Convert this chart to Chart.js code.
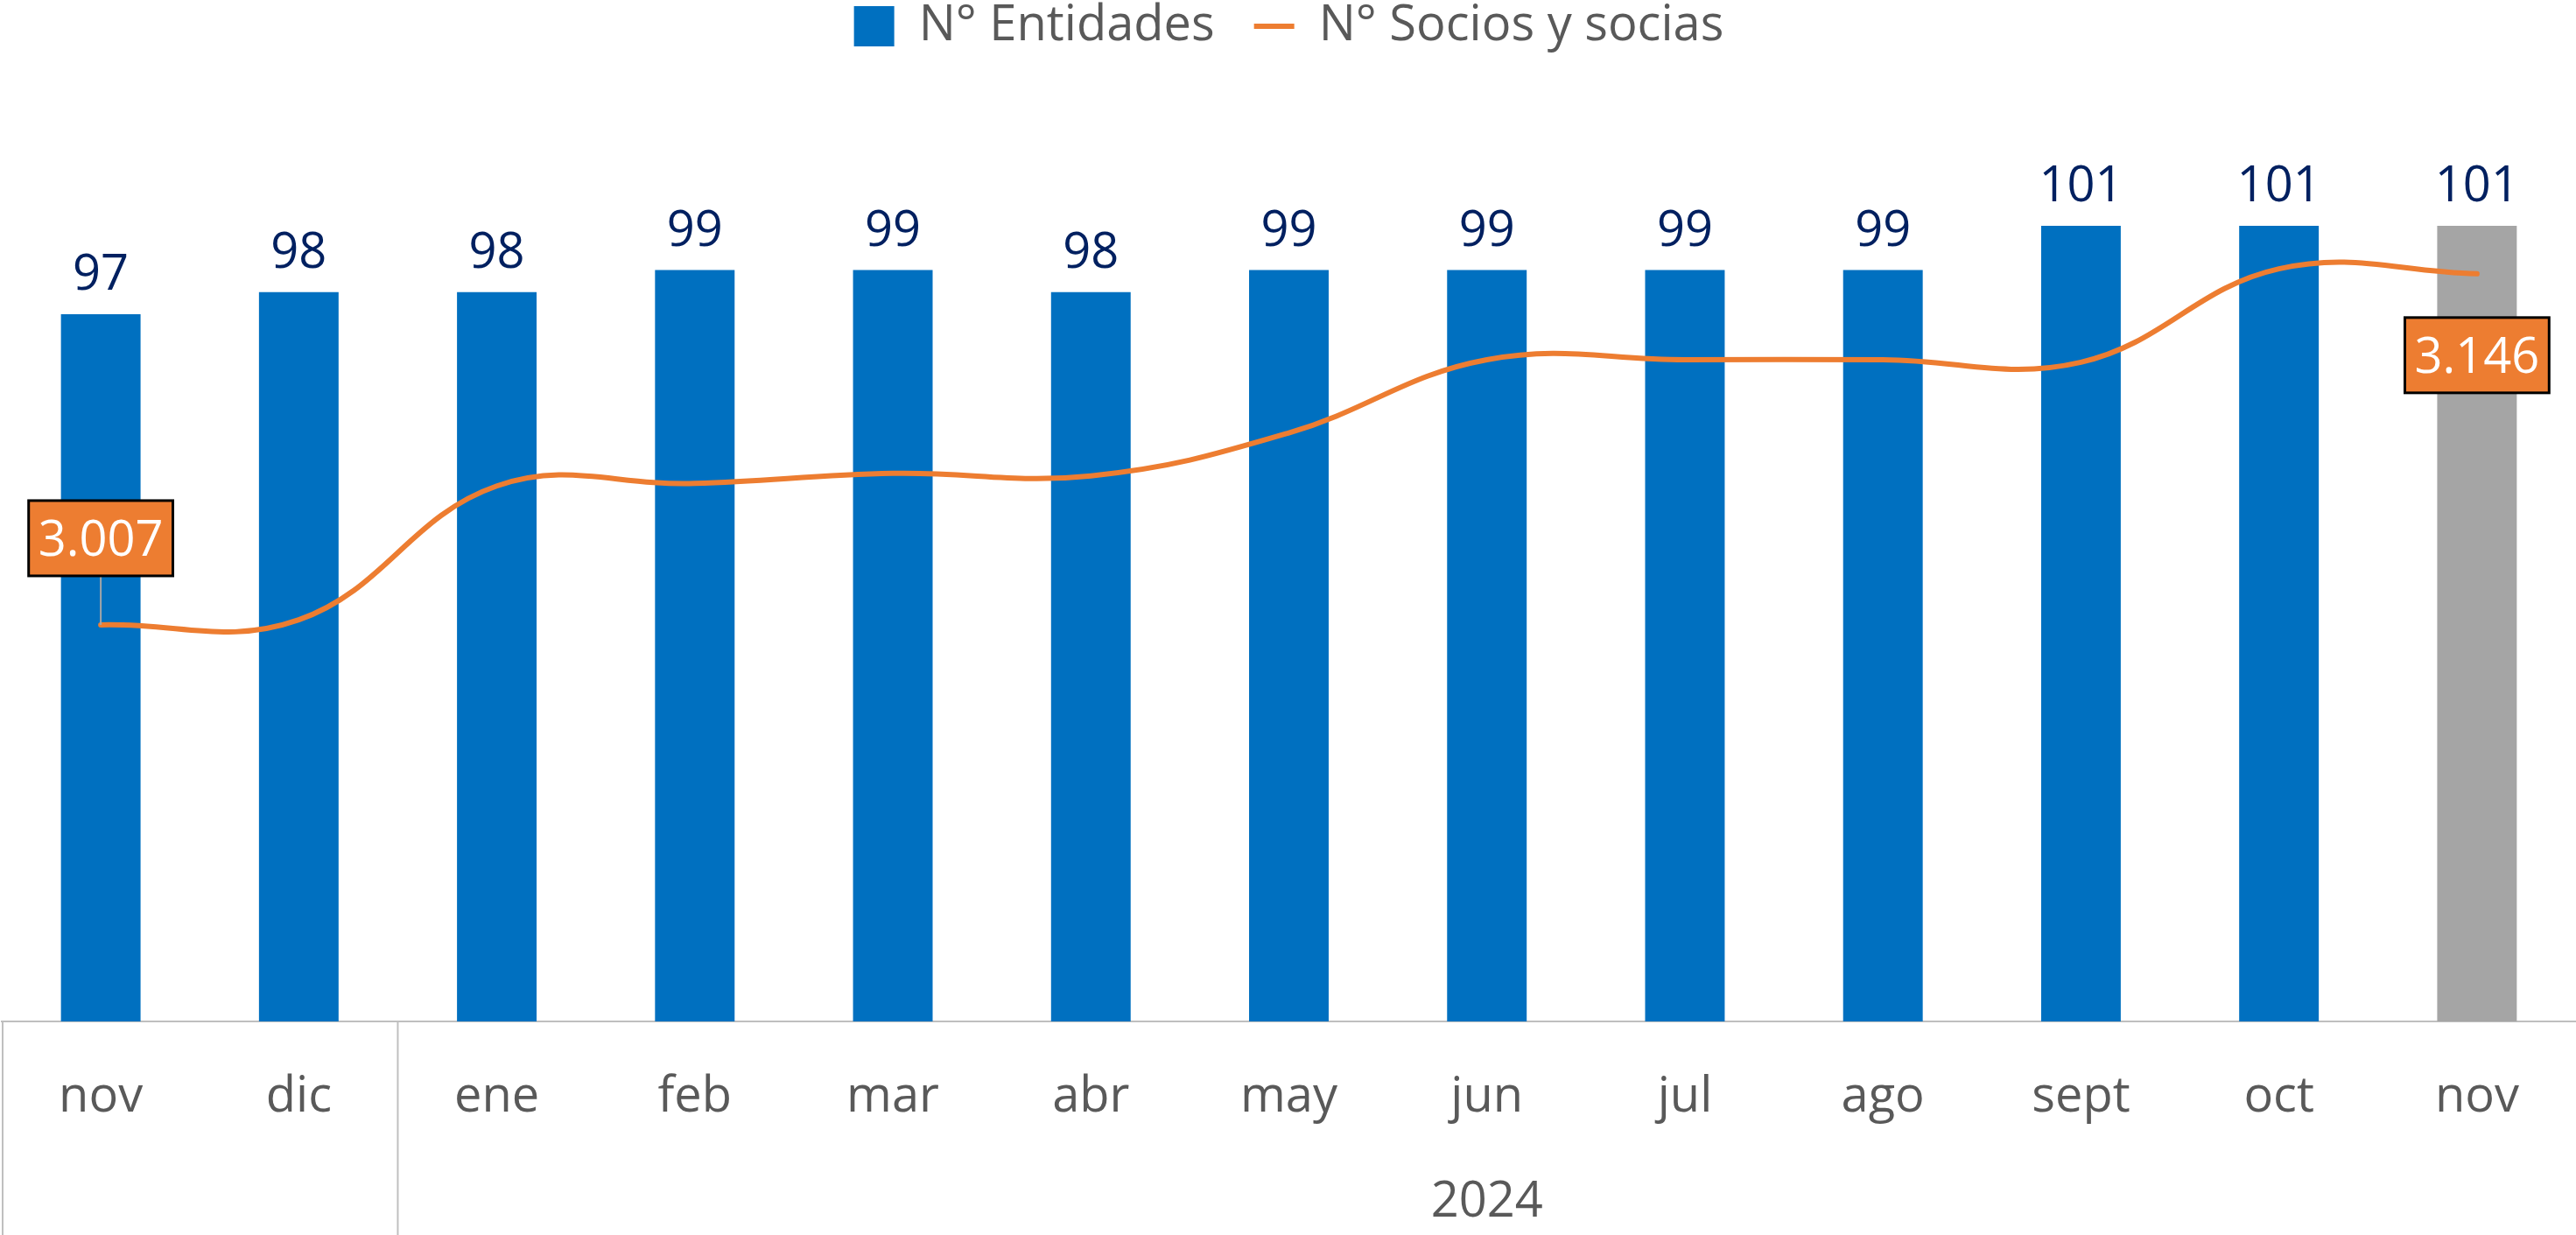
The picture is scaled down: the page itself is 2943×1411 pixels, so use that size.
<!DOCTYPE html>
<html>
<head>
<meta charset="utf-8">
<script src="https://cdn.jsdelivr.net/npm/chart.js@4.4.1/dist/chart.umd.min.js"></script>
<style>
html,body{margin:0;padding:0;background:#ffffff;}
canvas{display:block;}
</style>
</head>
<body>
<canvas id="c" width="2943" height="1411"></canvas>
<script>
// ---- data ----
const categories = ['nov','dic','ene','feb','mar','abr','may','jun','jul','ago','sept','oct','nov'];
const groupLabel = '2024';
const groupStartIndex = 2;
const groupEndIndex = 12;
const seriesNames = ['N° Entidades','N° Socios y socias'];
const entidades = [97,98,98,99,99,98,99,99,99,99,101,101,101];
const socios = [3007,3009,3062,3063,3067,3066,3083,3112,3112,3112,3111,3148,3146];
const labelledSociosIdx = [0, 12];

// ---- styles ----
const FONT = "'Open Sans', sans-serif";
const FS = 56;
const BLUE = '#0070C0';
const GREY_BAR = '#A5A5A5';
const ORANGE = '#ED7D31';
const NAVY = '#002060';
const TEXT_GREY = '#595959';
const AXIS_GREY = '#BFBFBF';

function fmtEs(v){ return String(v).replace(/\B(?=(\d{3})+(?!\d))/g, '.'); }

const legendFit = {
  id: 'legendFit',
  beforeInit(chart){
    const orig = chart.legend.fit;
    chart.legend.fit = function(){ orig.call(this); this.height = 200; };
  }
};

const annot = {
  id: 'annot',
  afterDatasetsDraw(chart){
    const ctx = chart.ctx;
    ctx.save();
    ctx.font = FS + 'px ' + FONT;
    ctx.textAlign = 'center';
    ctx.textBaseline = 'alphabetic';
    // bar value labels
    const bm = chart.getDatasetMeta(0);
    ctx.fillStyle = NAVY;
    bm.data.forEach((el, i) => {
      ctx.fillText(String(entidades[i]), el.x, el.y - 28);
    });
    // line value labels
    const lm = chart.getDatasetMeta(1);
    labelledSociosIdx.forEach((i, k) => {
      const el = lm.data[i];
      const txt = fmtEs(socios[i]);
      const w = ctx.measureText(txt).width + 22;
      const h = 86;
      const cy = k === 0 ? el.y - 99 : el.y + 93;
      if (k === 0) {
        ctx.strokeStyle = '#A6A6A6';
        ctx.lineWidth = 2;
        ctx.beginPath();
        ctx.moveTo(el.x, cy + h/2);
        ctx.lineTo(el.x, el.y);
        ctx.stroke();
      }
      ctx.fillStyle = ORANGE;
      ctx.fillRect(el.x - w/2, cy - h/2, w, h);
      ctx.strokeStyle = '#000000';
      ctx.lineWidth = 3;
      ctx.strokeRect(el.x - w/2, cy - h/2, w, h);
      ctx.fillStyle = '#FFFFFF';
      ctx.fillText(txt, el.x, cy + 20);
    });
    ctx.restore();
  },
  afterDraw(chart){
    const ctx = chart.ctx;
    const xs = chart.scales.x;
    const area = chart.chartArea;
    const bottom = chart.height;
    ctx.save();
    ctx.strokeStyle = AXIS_GREY;
    ctx.lineWidth = 2;
    const divX = (xs.getPixelForValue(groupStartIndex - 1) + xs.getPixelForValue(groupStartIndex)) / 2;
    [area.left + 1, divX].forEach(x => {
      ctx.beginPath();
      ctx.moveTo(x, area.bottom);
      ctx.lineTo(x, bottom);
      ctx.stroke();
    });
    ctx.fillStyle = TEXT_GREY;
    ctx.font = FS + 'px ' + FONT;
    ctx.textAlign = 'center';
    ctx.textBaseline = 'alphabetic';
    const gx = (xs.getPixelForValue(groupStartIndex) + xs.getPixelForValue(groupEndIndex)) / 2;
    ctx.fillText(groupLabel, gx, 1390);
    ctx.restore();
  }
};

new Chart(document.getElementById('c'), {
  data: {
    labels: categories,
    datasets: [
      {
        type: 'bar',
        label: seriesNames[0],
        data: entidades,
        yAxisID: 'y',
        backgroundColor: entidades.map((v, i) => i === entidades.length - 1 ? GREY_BAR : BLUE),
        borderWidth: 0,
        categoryPercentage: 1,
        barPercentage: 0.402,
        order: 1
      },
      {
        type: 'line',
        label: seriesNames[1],
        data: socios,
        yAxisID: 'y1',
        borderColor: ORANGE,
        backgroundColor: ORANGE,
        borderWidth: 6,
        pointRadius: 0,
        pointHoverRadius: 0,
        tension: 0.4,
        fill: false,
        borderCapStyle: 'round',
        order: 0
      }
    ]
  },
  options: {
    responsive: false,
    animation: false,
    devicePixelRatio: 1,
    layout: { padding: { top: -43, left: 2, right: 0, bottom: 0 } },
    plugins: {
      legend: {
        display: true,
        position: 'top',
        align: 'center',
        labels: {
          usePointStyle: true,
          pointStyleWidth: 46,
          boxHeight: 46,
          padding: 45,
          color: TEXT_GREY,
          font: { family: FONT, size: FS },
          sort: (a, b) => a.datasetIndex - b.datasetIndex,
          generateLabels(chart){
            const items = Chart.defaults.plugins.legend.labels.generateLabels(chart);
            items.forEach(it => {
              if (it.datasetIndex === 0) { it.pointStyle = 'rect'; it.fillStyle = BLUE; it.lineWidth = 0; }
              else { it.pointStyle = 'line'; it.strokeStyle = ORANGE; it.lineWidth = 6; }
            });
            return items;
          }
        }
      },
      tooltip: { enabled: false }
    },
    scales: {
      x: {
        type: 'category',
        offset: true,
        grid: { display: false, drawTicks: false },
        border: { display: true, color: AXIS_GREY, width: 2 },
        ticks: { color: TEXT_GREY, font: { family: FONT, size: FS }, padding: 53, maxRotation: 0, autoSkip: false },
        afterFit(scale){ scale.height = 244; }
      },
      y: {
        type: 'linear',
        display: false,
        min: 65,
        max: 105
      },
      y1: {
        type: 'linear',
        display: false,
        min: 2850,
        max: 3200
      }
    }
  },
  plugins: [legendFit, annot]
});
</script>
</body>
</html>
